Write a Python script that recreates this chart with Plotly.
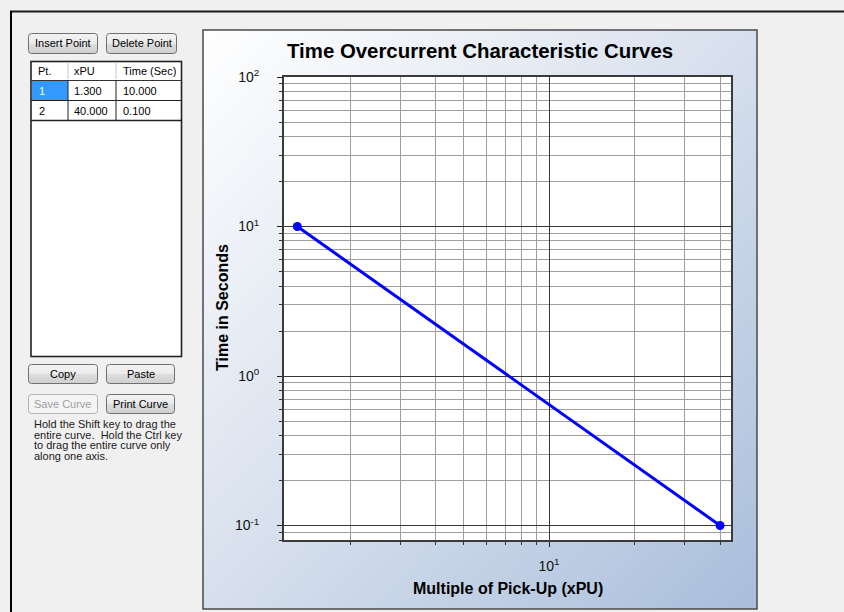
import base64
import math
import plotly.graph_objects as go

# ---------------- data ----------------
x_pu = [1.3, 40.0]
time_sec = [10.0, 0.1]

table_columns = ["Pt.", "xPU", "Time (Sec)"]
table_pt = ["1", "2"]
table_xpu = ["1.300", "40.000"]
table_time = ["10.000", "0.100"]

y_tick_vals = [0.1, 1, 10, 100]
y_tick_text = ["10<sup>-1</sup>", "10<sup>0</sup>", "10<sup>1</sup>", "10<sup>2</sup>"]
x_tick_vals = [10]
x_tick_text = ["10<sup>1</sup>"]

x_limits = [1.167, 43.7]
y_limits = [0.08, 100]

chart_title = "Time Overcurrent Characteristic Curves"
x_title = "Multiple of Pick-Up (xPU)"
y_title = "Time in Seconds"

button_labels = ["Insert Point", "Delete Point", "Copy", "Paste", "Save Curve", "Print Curve"]
help_lines = ["Hold the Shift key to drag the",
              "entire curve.  Hold the Ctrl key",
              "to drag the entire curve only",
              "along one axis."]

# ---------------- layout helpers ----------------
W, H = 844, 612
PL, PR, PT, PB = 284, 731, 77, 540   # plot area in pixels


def px(x):
    return x / W


def py(y):
    return 1 - y / H


FONT = "Liberation Sans, Arial, sans-serif"

# button boxes (x0, y0, x1, y1, enabled)
button_boxes = [
    (28, 33, 97, 53, True), (106, 33, 176, 53, True),
    (28, 364, 97, 383, True), (106, 364, 174, 383, True),
    (28, 394, 97, 413, False), (106, 394, 174, 413, True),
]

svg = ['<svg xmlns="http://www.w3.org/2000/svg" width="844" height="612" viewBox="0 0 844 612">',
       '<defs>',
       '<linearGradient id="pg" x1="0" y1="0" x2="1" y2="1">'
       '<stop offset="0" stop-color="#ffffff"/><stop offset="0.45" stop-color="#dbe3ef"/>'
       '<stop offset="1" stop-color="#a9bedb"/></linearGradient>',
       '<linearGradient id="bt" x1="0" y1="0" x2="0" y2="1">'
       '<stop offset="0" stop-color="#f3f3f3"/><stop offset="0.5" stop-color="#ebebeb"/>'
       '<stop offset="0.5" stop-color="#dddddd"/><stop offset="1" stop-color="#cfcfcf"/></linearGradient>',
       '</defs>',
       '<rect x="0" y="0" width="844" height="612" fill="#f0f0f0"/>',
       '<line x1="10" y1="11.5" x2="844" y2="11.5" stroke="#1a1a1a" stroke-width="2"/>',
       '<line x1="11" y1="11" x2="11" y2="612" stroke="#000000" stroke-width="2"/>',
       '<rect x="203" y="30" width="554" height="579" fill="url(#pg)" stroke="#4a4a4a" stroke-width="1.5"/>',
       # table
       '<rect x="31" y="61.5" width="150.5" height="295" fill="#ffffff" stroke="#222222" stroke-width="1.6"/>',
       '<line x1="68" y1="63" x2="68" y2="79" stroke="#c8c8c8" stroke-width="1"/>',
       '<line x1="116" y1="63" x2="116" y2="79" stroke="#c8c8c8" stroke-width="1"/>',
       '<rect x="32" y="80.5" width="36" height="19.5" fill="#3399ff"/>',
       '<line x1="31" y1="80.5" x2="182" y2="80.5" stroke="#333333" stroke-width="1"/>',
       '<line x1="31" y1="100.5" x2="182" y2="100.5" stroke="#222222" stroke-width="1"/>',
       '<line x1="31" y1="120.5" x2="182" y2="120.5" stroke="#222222" stroke-width="1.4"/>',
       '<line x1="68" y1="80" x2="68" y2="121" stroke="#222222" stroke-width="1"/>',
       '<line x1="116" y1="80" x2="116" y2="121" stroke="#222222" stroke-width="1"/>',
       ]
for (x0, y0, x1, y1, en) in button_boxes:
    if en:
        svg.append(f'<rect x="{x0 + .5}" y="{y0 + .5}" width="{x1 - x0}" height="{y1 - y0}" rx="3" '
                   f'fill="url(#bt)" stroke="#707070" stroke-width="1"/>')
    else:
        svg.append(f'<rect x="{x0 + .5}" y="{y0 + .5}" width="{x1 - x0}" height="{y1 - y0}" rx="3" '
                   f'fill="#f4f4f4" stroke="#adb2b5" stroke-width="1"/>')
svg.append('</svg>')
svg_uri = "data:image/svg+xml;base64," + base64.b64encode("".join(svg).encode()).decode()

fig = go.Figure()
fig.add_trace(go.Scatter(
    x=x_pu, y=time_sec, mode="lines+markers",
    line=dict(color="#0000ff", width=3),
    marker=dict(color="#0000ff", size=9),
    hoverinfo="x+y",
))

axis_common = dict(
    type="log", showline=True, linecolor="#3a3a3a", linewidth=2, mirror=True,
    showgrid=True, gridcolor="#383838", gridwidth=1, automargin=False,
    ticks="outside", ticklen=5, tickcolor="#222222", tickwidth=1,
    tickmode="array", zeroline=False,
    tickfont=dict(family=FONT, size=14, color="#111111"),
    minor=dict(dtick="D1", showgrid=True, gridcolor="#9e9e9e", gridwidth=1,
               ticks="outside", ticklen=3, tickcolor="#333333"),
)
fig.update_xaxes(**axis_common, tickvals=x_tick_vals, ticktext=x_tick_text,
                 range=[math.log10(x_limits[0]), math.log10(x_limits[1])],
                 domain=[px(PL), px(PR)], ticklabelstandoff=7)
fig.update_yaxes(**axis_common, tickvals=y_tick_vals, ticktext=y_tick_text,
                 range=[math.log10(y_limits[0]), math.log10(y_limits[1])],
                 domain=[py(PB), py(PT)], ticklabelstandoff=15)

annotations = [
    dict(text=chart_title, x=px(480), y=py(51), font=dict(family=FONT, size=20.4, color="#000", weight="bold")),
    dict(text=x_title, x=px(508), y=py(588), font=dict(family=FONT, size=16, color="#000", weight="bold")),
    dict(text=y_title, x=px(222), y=py(308), textangle=-90,
         font=dict(family=FONT, size=16, color="#000", weight="bold")),
]
for label, (x0, y0, x1, y1, en) in zip(button_labels, button_boxes):
    annotations.append(dict(text=label, x=px((x0 + x1) / 2 + 0.5), y=py((y0 + y1) / 2 + 0.5),
                            font=dict(family=FONT, size=11, color="#000" if en else "#a0a0a0")))
# table text
col_x = [36, 72, 121]
for cx, txt in zip(col_x, table_columns):
    annotations.append(dict(text=txt, x=px(cx), y=py(71), xanchor="left",
                            font=dict(family=FONT, size=11, color="#000")))
for r, (a, b, c) in enumerate(zip(table_pt, table_xpu, table_time)):
    ry = 90.5 + 20 * r
    for i, (cx, txt) in enumerate(zip(col_x, (a, b, c))):
        col = "#ffffff" if (r == 0 and i == 0) else "#000"
        annotations.append(dict(text=txt, x=px(cx + (1 if i == 0 else 0)), y=py(ry), xanchor="left",
                                font=dict(family=FONT, size=11, color=col)))
for k, line in enumerate(help_lines):
    annotations.append(dict(text=line, x=px(32), y=py(424 + 10.5 * k), xanchor="left",
                            font=dict(family=FONT, size=11, color="#1a1a1a")))
for a in annotations:
    a.setdefault("xref", "paper")
    a.setdefault("yref", "paper")
    a.setdefault("showarrow", False)
    a.setdefault("xanchor", "center")
    a.setdefault("yanchor", "middle")

fig.update_layout(
    width=W, height=H, margin=dict(l=0, r=0, t=0, b=0, pad=0, autoexpand=False),
    paper_bgcolor="#f0f0f0", plot_bgcolor="#ffffff", showlegend=False,
    images=[dict(source=svg_uri, xref="paper", yref="paper", x=0, y=1, sizex=1, sizey=1,
                 xanchor="left", yanchor="top", sizing="stretch", layer="below")],
    shapes=[dict(type="rect", xref="x domain", yref="y domain", x0=0, x1=1, y0=0, y1=1,
                 fillcolor="#ffffff", line=dict(width=0), layer="below")],
    annotations=annotations,
)

fig.write_html("out.html", config={"displayModeBar": False},
               post_script="document.body.style.margin='0';document.body.style.overflow='hidden';")
